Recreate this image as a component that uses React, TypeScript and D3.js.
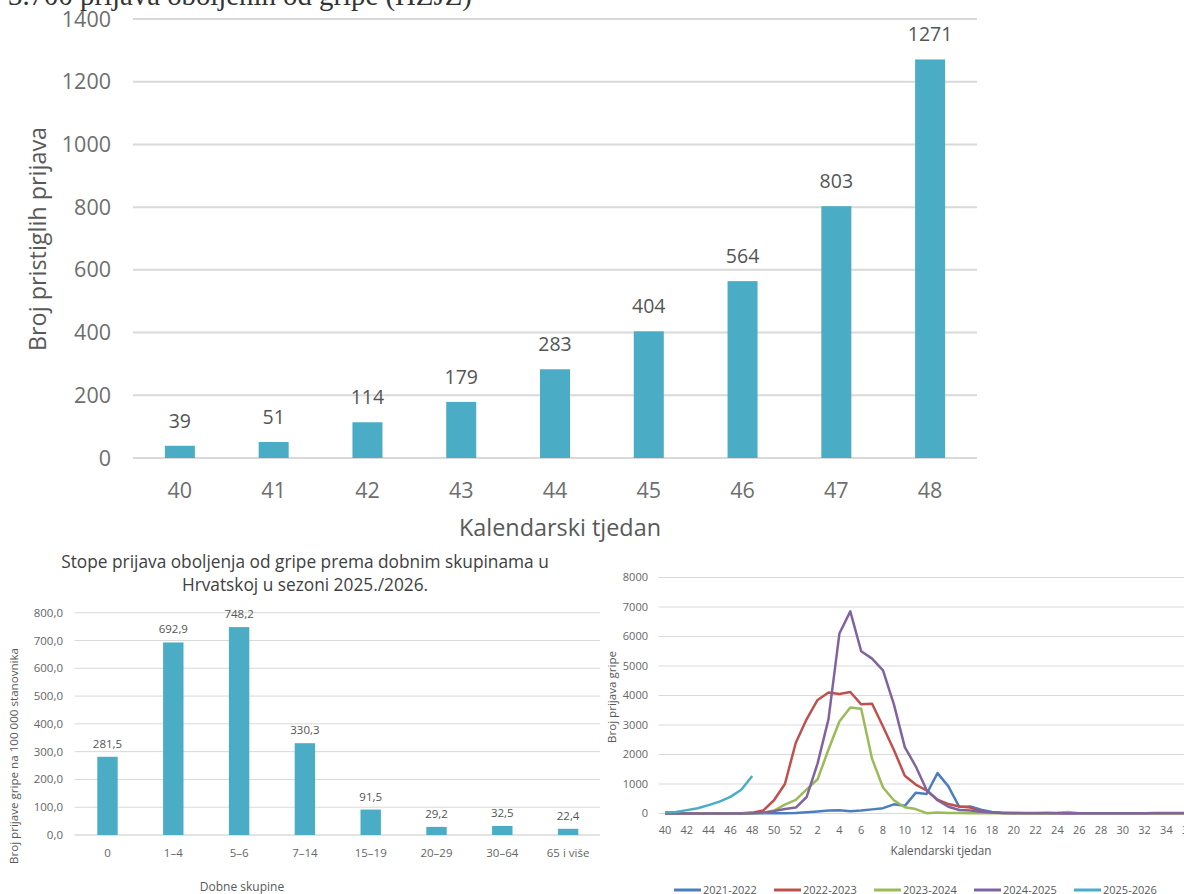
import React from 'react';
import * as d3 from 'd3';

// ---------- Top chart: weekly reports 2025/2026 ----------
const weeksTop = ['40', '41', '42', '43', '44', '45', '46', '47', '48'];
const reportsTop = [39, 51, 114, 179, 283, 404, 564, 803, 1271];
const yTicksTop = [0, 200, 400, 600, 800, 1000, 1200, 1400];

// ---------- Bottom-left chart: rates by age group ----------
const ageGroups = ['0', '1–4', '5–6', '7–14', '15–19', '20–29', '30–64', '65 i više'];
const ageRates = [281.5, 692.9, 748.2, 330.3, 91.5, 29.2, 32.5, 22.4];
const ageTicks = [0, 100, 200, 300, 400, 500, 600, 700, 800];

// ---------- Bottom-right chart: seasons comparison ----------
const seasonWeeks = [
  40, 41, 42, 43, 44, 45, 46, 47, 48, 49, 50, 51, 52,
  1, 2, 3, 4, 5, 6, 7, 8, 9, 10, 11, 12, 13, 14, 15, 16, 17, 18, 19, 20,
  21, 22, 23, 24, 25, 26, 27, 28, 29, 30, 31, 32, 33, 34, 35, 36, 37, 38, 39,
];
const seasonNames = ['2021-2022', '2022-2023', '2023-2024', '2024-2025', '2025-2026'];
const seasonColors = ['#4A7EC0', '#C0504D', '#9BBB59', '#8064A2', '#4BACC6'];
const season2122 = [
  5, 5, 5, 5, 5, 5, 5, 5, 5, 5, 10, 10, 15,
  40, 70, 100, 110, 80, 100, 140, 180, 310, 260, 700, 660, 1370, 920, 220, 240, 130, 50, 20, 15,
  10, 10, 10, 10, 10, 10, 10, 10, 10, 10, 10, 10, 10, 10, 10, 10, 10, 10, 10,
];
const season2223 = [
  0, 0, 0, 0, 0, 0, 0, 10, 30, 100, 450, 1000, 2400,
  3200, 3850, 4100, 4050, 4120, 3700, 3720, 2950, 2150, 1280, 980, 780, 470, 320, 240, 200, 70, 30, 20, 10,
  10, 10, 20, 10, 10, 10, 10, 10, 10, 10, 10, 10, 10, 10, 10, 10, 10, 10, 10,
];
const season2324 = [
  0, 0, 0, 0, 0, 0, 0, 0, 0, 20, 100, 300, 460,
  820, 1160, 2170, 3120, 3590, 3550, 1850, 880, 450, 210, 150, 10, 30, 20, 15, 10, 10, 10, 10, 10,
  10, 10, 10, 20, 50, 10, 10, 10, 10, 10, 10, 10, 10, 10, 10, 10, 10, 10, 10,
];
const season2425 = [
  0, 0, 0, 0, 0, 0, 0, 0, 10, 30, 80, 150, 200,
  560, 1700, 3200, 6100, 6850, 5500, 5250, 4850, 3700, 2250, 1600, 800, 450, 230, 120, 100, 60, 30, 20, 20,
  15, 15, 20, 15, 10, 10, 10, 10, 10, 10, 10, 10, 15, 15, 20, 20, 20, 20, 20,
];
const season2526 = [39, 51, 114, 179, 283, 404, 564, 803, 1271];
const countTicks = [0, 1000, 2000, 3000, 4000, 5000, 6000, 7000, 8000];

const FONT = "'Open Sans', 'Noto Sans', sans-serif";
const BAR = '#4BACC6';
const GRID = '#d9d9d9';

const comma1 = (v: number) => d3.format('.1f')(v).replace('.', ',');

export default function App() {
  // top chart scales
  const xTop = d3.scaleBand<string>().domain(weeksTop).range([133, 977]).paddingInner(0.68).paddingOuter(0.34);
  const yTop = d3.scaleLinear().domain([0, 1400]).range([458, 19]);

  // bottom-left scales
  const xAge = d3.scaleBand<string>().domain(ageGroups).range([74.6, 601]).paddingInner(0.69).paddingOuter(0.345);
  const yAge = d3.scaleLinear().domain([0, 800]).range([835, 612.7]);

  // bottom-right scales
  const xWk = d3.scaleLinear().domain([0, seasonWeeks.length - 1]).range([665, 665 + 10.9 * (seasonWeeks.length - 1)]);
  const yWk = d3.scaleLinear().domain([0, 8000]).range([813.5, 577.5]);
  const line = d3.line<number>().x((_, i) => xWk(i)).y((d) => yWk(d));
  const seasons = [season2122, season2223, season2324, season2425, season2526];

  return (
    <svg
      width={1184}
      height={894}
      style={{ position: 'absolute', left: 0, top: 0, background: '#fff' }}
      fontFamily={FONT}
    >
      <rect x={0} y={0} width={1184} height={894} fill="#fff" />
      {/* page text, cut at top */}
      <text x={8} y={4.5} fontFamily="'Liberation Serif', 'Times New Roman', serif" fontSize={28.8} fill="#333">
        3.700 prijava oboljenih od gripe (HZJZ)
      </text>

      {/* ---------------- Top chart ---------------- */}
      <g>
        {yTicksTop.map((t) => (
          <g key={t}>
            <line x1={133} x2={977} y1={yTop(t)} y2={yTop(t)} stroke={GRID} strokeWidth={2} />
            <text x={111} y={yTop(t)} dy="0.35em" textAnchor="end" fontSize={21.5} fill="#6e6e6e">
              {t}
            </text>
          </g>
        ))}
        {weeksTop.map((w, i) => {
          const v = reportsTop[i];
          const x = xTop(w)!;
          const cx = x + xTop.bandwidth() / 2;
          return (
            <g key={w}>
              <rect x={x} y={yTop(v)} width={xTop.bandwidth()} height={yTop(0) - yTop(v)} fill={BAR} />
              <text x={cx} y={yTop(v) - 18} textAnchor="middle" fontSize={19.5} fill="#555">
                {v}
              </text>
              <text x={cx} y={490} dy="0.35em" textAnchor="middle" fontSize={21.5} fill="#6e6e6e">
                {w}
              </text>
            </g>
          );
        })}
        <text x={560} y={528} dy="0.35em" textAnchor="middle" fontSize={23.4} fill="#595959">
          Kalendarski tjedan
        </text>
        <text
          transform="translate(38,239) rotate(-90)"
          dy="0.35em"
          textAnchor="middle"
          fontSize={23.4}
          fill="#595959"
        >
          Broj pristiglih prijava
        </text>
      </g>

      {/* ---------------- Bottom-left chart ---------------- */}
      <g>
        <text x={305} y={561.7} dy="0.35em" textAnchor="middle" fontSize={17.3} fill="#404040">
          Stope prijava oboljenja od gripe prema dobnim skupinama u
        </text>
        <text x={305} y={585} dy="0.35em" textAnchor="middle" fontSize={17.3} fill="#404040">
          Hrvatskoj u sezoni 2025./2026.
        </text>
        {ageTicks.map((t) => (
          <g key={t}>
            <line x1={74.6} x2={600} y1={yAge(t)} y2={yAge(t)} stroke={t === 0 ? '#c8c8c8' : GRID} strokeWidth={1} />
            <text x={63} y={yAge(t)} dy="0.35em" textAnchor="end" fontSize={11.5} fill="#666">
              {comma1(t)}
            </text>
          </g>
        ))}
        {ageGroups.map((g, i) => {
          const v = ageRates[i];
          const x = xAge(g)!;
          const cx = x + xAge.bandwidth() / 2;
          return (
            <g key={g}>
              <rect x={x} y={yAge(v)} width={xAge.bandwidth()} height={yAge(0) - yAge(v)} fill={BAR} />
              <text x={cx} y={yAge(v) - 9} textAnchor="middle" fontSize={11.5} fill="#555">
                {comma1(v)}
              </text>
              <text x={cx} y={857} textAnchor="middle" fontSize={11.5} fill="#666">
                {g}
              </text>
            </g>
          );
        })}
        <text x={242} y={887} dy="0.35em" textAnchor="middle" fontSize={12} fill="#595959">
          Dobne skupine
        </text>
        <text
          transform="translate(14,756) rotate(-90)"
          dy="0.35em"
          textAnchor="middle"
          fontSize={11.6}
          fill="#595959"
        >
          Broj prijave gripe na 100 000 stanovnika
        </text>
      </g>

      {/* ---------------- Bottom-right chart ---------------- */}
      <g>
        {countTicks.map((t) => (
          <g key={t}>
            <line x1={658.5} x2={1240} y1={yWk(t)} y2={yWk(t)} stroke={GRID} strokeWidth={1} />
            <text x={648} y={yWk(t)} dy="0.35em" textAnchor="end" fontSize={11} fill="#666">
              {t}
            </text>
          </g>
        ))}
        {seasonWeeks.map((w, i) =>
          i % 2 === 0 ? (
            <text key={i} x={xWk(i)} y={830} dy="0.35em" textAnchor="middle" fontSize={11} fill="#666">
              {w}
            </text>
          ) : null
        )}
        {seasons.map((s, k) => (
          <path
            key={seasonNames[k]}
            d={line(s) || ''}
            fill="none"
            stroke={seasonColors[k]}
            strokeWidth={2.5}
            strokeLinejoin="round"
          />
        ))}
        <text x={941} y={851} dy="0.35em" textAnchor="middle" fontSize={11.7} fill="#595959">
          Kalendarski tjedan
        </text>
        <text
          transform="translate(612,697) rotate(-90)"
          dy="0.35em"
          textAnchor="middle"
          fontSize={11.6}
          fill="#595959"
        >
          Broj prijava gripe
        </text>
        {seasonNames.map((n, k) => {
          const lx = 674 + k * 100;
          return (
            <g key={n}>
              <line x1={lx} x2={lx + 27} y1={890} y2={890} stroke={seasonColors[k]} strokeWidth={3} />
              <text x={lx + 29} y={890} dy="0.35em" fontSize={11} fill="#595959">
                {n}
              </text>
            </g>
          );
        })}
      </g>
    </svg>
  );
}
